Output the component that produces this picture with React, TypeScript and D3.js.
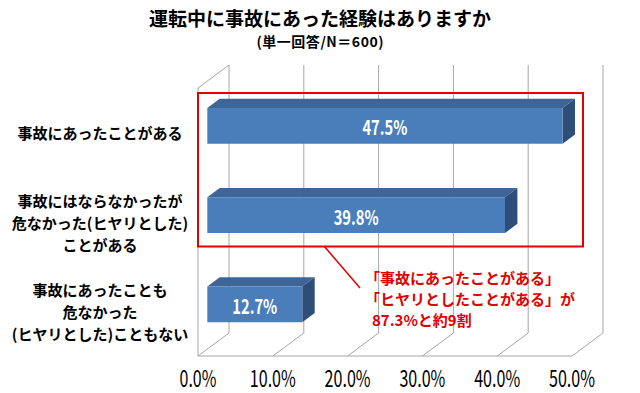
import * as d3 from "d3";

const title = "運転中に事故にあった経験はありますか";
const subtitle = "(単一回答/N＝600)";

const categoryLines = [
  ["事故にあったことがある"],
  ["事故にはならなかったが", "危なかった(ヒヤリとした)", "ことがある"],
  ["事故にあったことも", "危なかった", "(ヒヤリとした)こともない"],
];
const values = [47.5, 39.8, 12.7];
const valueLabels = ["47.5%", "39.8%", "12.7%"];

const tickValues = [0, 10, 20, 30, 40, 50];
const tickLabels = ["0.0%", "10.0%", "20.0%", "30.0%", "40.0%", "50.0%"];

const noteLines = ["「事故にあったことがある」", "「ヒヤリとしたことがある」が", "87.3%と約9割"];

const W = 640;
const H = 393;
// front plane of the 3d box, and the vector that goes to its back plane
const plot = { left: 198, right: 572, top: 88, bottom: 356 };
const depth = { dx: 31, dy: -23 };
const barZ = [0.3, 0.7];

const FONT = "'Noto Sans CJK JP', 'Noto Sans', sans-serif";
const GRID = "#a6a6a6";
const RED = "#e00000";

export default function App() {
  const x = d3.scaleLinear().domain([0, 50]).range([plot.left, plot.right]);
  const y = d3
    .scaleBand<number>()
    .domain(values.map((_, i) => i))
    .range([plot.top, plot.bottom]);
  const barH = y.bandwidth() * 0.4;

  const proj = (v: number, yy: number, z: number): [number, number] => [
    x(v) + z * depth.dx,
    yy + z * depth.dy,
  ];
  const poly = (pts: [number, number][]) => d3.line()(pts) + "Z";

  const [z0, z1] = barZ;

  return (
    <div style={{ position: "absolute", left: 0, top: 0 }}>
      <svg width={W} height={H} style={{ display: "block", background: "#fff" }}>
        <text x={320} y={26} textAnchor="middle"
          fontFamily={FONT} fontSize={19} fontWeight="bold" fill="#000">
          {title}
        </text>
        <text x={320} y={47} textAnchor="middle"
          fontFamily={FONT} fontSize={14} fontWeight="bold" fill="#000"
          textLength={127} lengthAdjust="spacing">
          {subtitle}
        </text>

        {/* walls and floor */}
        <g stroke={GRID} strokeWidth={1} fill="none">
          {tickValues.map((t) => {
            const a = proj(t, plot.top, 1);
            const b = proj(t, plot.bottom, 1);
            const c = proj(t, plot.bottom, 0);
            return (
              <g key={t}>
                <line x1={a[0]} y1={a[1]} x2={b[0]} y2={b[1]} />
                <line x1={c[0]} y1={c[1]} x2={b[0]} y2={b[1]} />
              </g>
            );
          })}
          <line x1={x(0)} y1={plot.top} x2={x(0)} y2={plot.bottom} />
          <line x1={x(0)} y1={plot.top} x2={proj(0, plot.top, 1)[0]} y2={proj(0, plot.top, 1)[1]} />
          <line x1={x(0)} y1={plot.bottom} x2={x(50)} y2={plot.bottom} />
        </g>

        {/* bars */}
        {values.map((v, i) => {
          const yc = (y(i) as number) + y.bandwidth() / 2;
          const yt = yc - barH / 2;
          const yb = yc + barH / 2;
          const f = proj(0, yc, z0);
          return (
            <g key={i}>
              <path d={poly([proj(0, yt, z0), proj(v, yt, z0), proj(v, yt, z1), proj(0, yt, z1)])}
                fill="#3d6597" />
              <path d={poly([proj(v, yt, z0), proj(v, yt, z1), proj(v, yb, z1), proj(v, yb, z0)])}
                fill="#2e4e78" />
              <path d={poly([proj(0, yt, z0), proj(v, yt, z0), proj(v, yb, z0), proj(0, yb, z0)])}
                fill="#4a7ebb" />
              <text x={(x(0) + x(v)) / 2 + z0 * depth.dx} y={f[1] + 1}
                textAnchor="middle" dominantBaseline="central" fontFamily={FONT}
                fontSize={20} fontWeight="bold" fill="#fff"
                textLength={valueLabels[i].length * 9} lengthAdjust="spacingAndGlyphs">
                {valueLabels[i]}
              </text>
            </g>
          );
        })}

        {/* category labels */}
        {categoryLines.map((lines, i) => {
          const yc = (y(i) as number) + y.bandwidth() / 2;
          return lines.map((s, j) => (
            <text key={i + "-" + j} x={100} y={yc + (j - (lines.length - 1) / 2) * 22}
              textAnchor="middle" dominantBaseline="central" fontFamily={FONT}
              fontSize={15} fontWeight="bold" fill="#000">
              {s}
            </text>
          ));
        })}

        {/* tick labels */}
        {tickValues.map((t, i) => (
          <text key={t} x={x(t)} y={377} textAnchor="middle" dominantBaseline="central"
            fontFamily={FONT} fontSize={23} fill="#000"
            textLength={tickLabels[i].length * 9.2} lengthAdjust="spacingAndGlyphs">
            {tickLabels[i]}
          </text>
        ))}

        {/* highlight box and note */}
        <rect x={198} y={93} width={385} height={153.5} fill="none" stroke={RED} strokeWidth={2} />
        <line x1={324} y1={246} x2={360} y2={288} stroke={RED} strokeWidth={1.5} />
        {noteLines.map((s, i) => (
          <text key={i} x={i < 2 ? 365 : 372} y={277 + i * 21} dominantBaseline="central"
            fontFamily={FONT} fontSize={15} fontWeight="bold" fill={RED}>
            {s}
          </text>
        ))}
      </svg>
    </div>
  );
}
